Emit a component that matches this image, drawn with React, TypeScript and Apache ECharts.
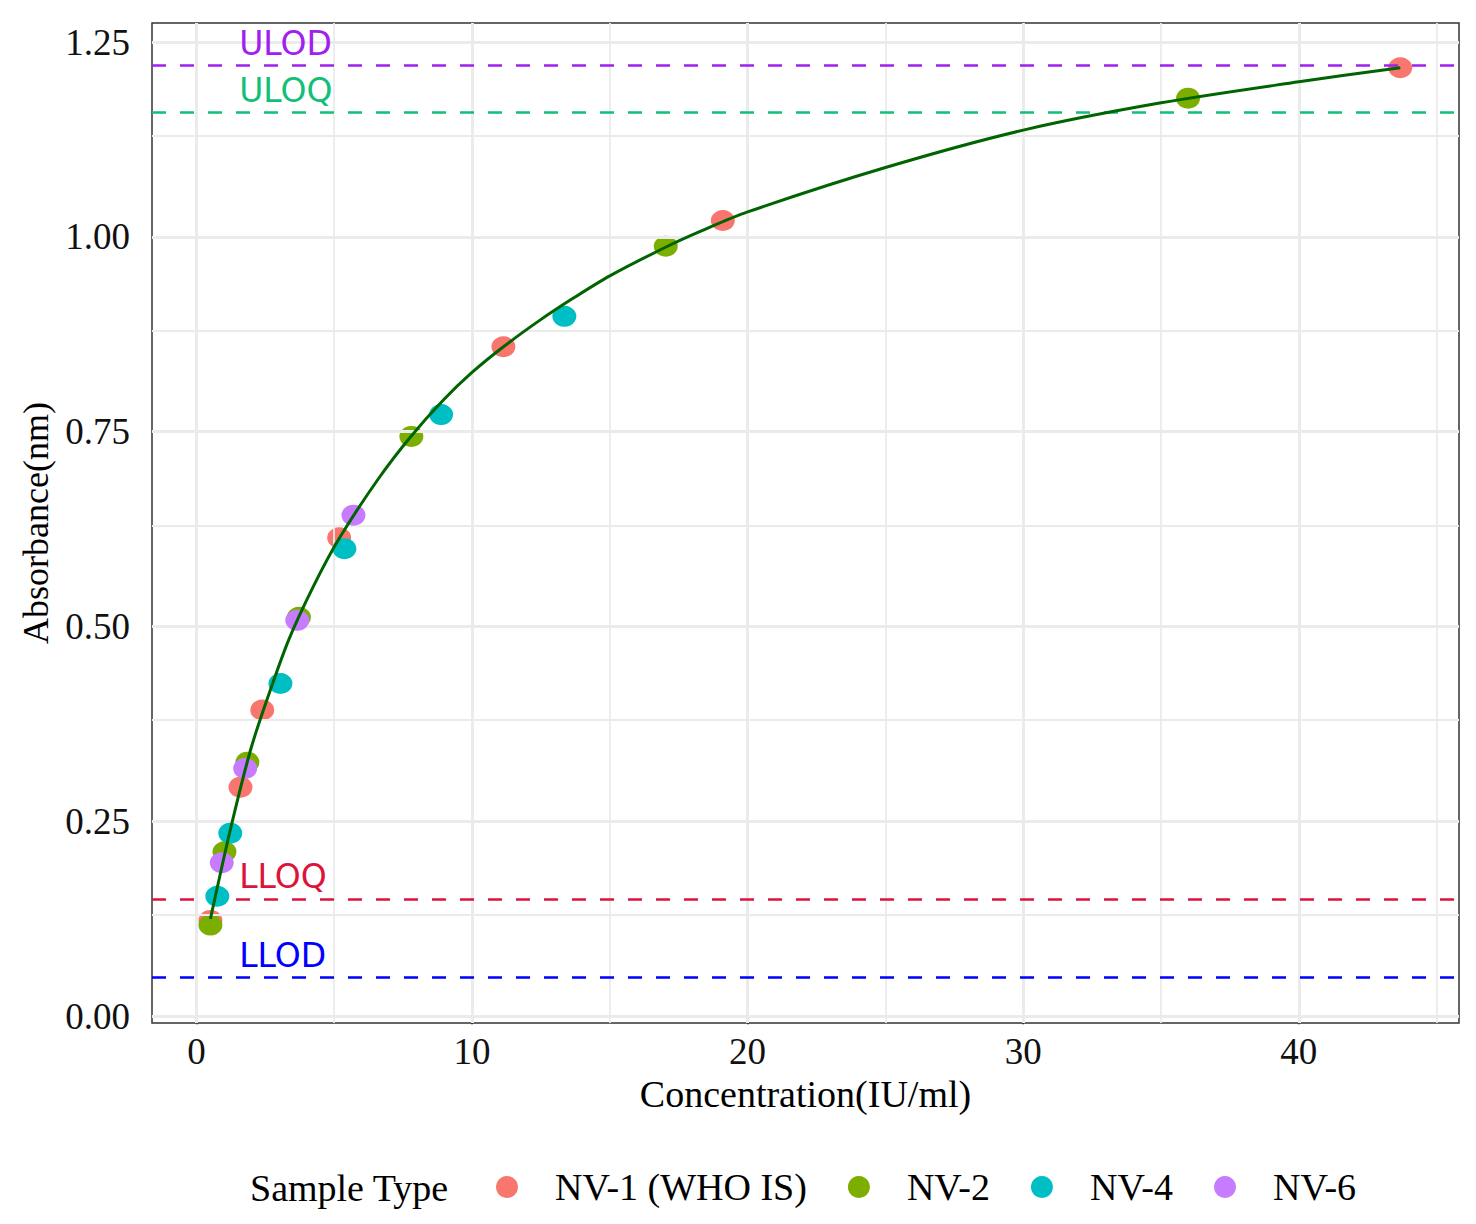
import { useEffect, useRef } from "react";
import * as echarts from "echarts";

// axis ranges of the panel (ggplot-style 5% expansion)
const X_MIN = -1.61;
const X_MAX = 45.81;
const Y_MIN = -0.0086;
const Y_MAX = 1.2744;

const X_TICKS = [0, 10, 20, 30, 40];
const X_MINOR = [5, 15, 25, 35, 45];
const Y_TICKS = [0, 0.25, 0.5, 0.75, 1.0, 1.25];
const Y_MINOR = [0.125, 0.375, 0.625, 0.875, 1.125];

// samples: [concentration, absorbance]
const NV1: number[][] = [
    [43.68, 1.217],
    [19.1, 1.021],
    [11.14, 0.859],
    [5.18, 0.614],
    [2.39, 0.393],
    [1.6, 0.294],
    [0.51, 0.123],
];
const NV2: number[][] = [
    [35.98, 1.178],
    [17.03, 0.988],
    [7.8, 0.744],
    [3.72, 0.512],
    [1.85, 0.326],
    [1.02, 0.211],
    [0.51, 0.117],
];
const NV4: number[][] = [
    [13.35, 0.898],
    [8.88, 0.772],
    [5.37, 0.6],
    [3.05, 0.427],
    [1.23, 0.235],
    [0.76, 0.154],
];
const NV6: number[][] = [
    [5.7, 0.643],
    [3.66, 0.508],
    [1.77, 0.318],
    [0.92, 0.197],
];

// fitted standard curve
const CURVE_X = [0.51, 1.23, 1.96, 2.56, 3.35, 4.25, 5.18, 6.61, 7.76, 8.97, 10, 11.14, 12.48, 13.68, 15, 17.04, 18.28, 20, 25, 30, 35, 40, 43.68];
const CURVE_Y = [0.125, 0.239, 0.341, 0.406, 0.483, 0.552, 0.613, 0.69, 0.743, 0.791, 0.826, 0.859, 0.8935, 0.9215, 0.95, 0.987, 1.007, 1.032, 1.089, 1.137, 1.172, 1.199, 1.217];

// limit lines
const LIMIT_NAMES = ["ULOD", "ULOQ", "LLOQ", "LLOD"];
const LIMIT_VALUES = [1.2173, 1.1557, 0.1489, 0.0484];
const LIMIT_COLORS = ["#A020F0", "#12BF78", "#DC143C", "#0000FF"];
const LIMIT_LABEL_X = 1.55;
const LIMIT_LABEL_Y = [1.248, 1.188, 0.179, 0.078];

const SERIES_NAMES = ["NV-1 (WHO IS)", "NV-2", "NV-4", "NV-6"];
const SERIES_DATA = [NV1, NV2, NV4, NV6];
const COLORS = ["#F8766D", "#7CAE00", "#00BFC4", "#C77CFF"];

const SERIF = "'Liberation Serif', 'Times New Roman', serif";
const SANS = "'DejaVu Sans', sans-serif";

export default function App() {
    const chartRef = useRef<HTMLDivElement | null>(null);

    useEffect(() => {
        document.body.style.margin = "0";
        if (!chartRef.current) return;
        const chart = echarts.init(chartRef.current, undefined, { renderer: "svg" });

        const gridLines = [
            ...X_TICKS.map((v) => ({ xAxis: v, lineStyle: { width: 3 } })),
            ...X_MINOR.map((v) => ({ xAxis: v, lineStyle: { width: 1.8 } })),
            ...Y_TICKS.map((v) => ({ yAxis: v, lineStyle: { width: 3 } })),
            ...Y_MINOR.map((v) => ({ yAxis: v, lineStyle: { width: 1.8 } })),
        ];

        chart.setOption({
            animation: false,
            backgroundColor: "#ffffff",
            grid: {
                left: 152,
                right: 17,
                top: 23,
                bottom: 201,
                show: true,
                borderColor: "#333333",
                borderWidth: 1.5,
                backgroundColor: "transparent",
            },
            xAxis: {
                type: "value",
                min: X_MIN,
                max: X_MAX,
                axisLine: { show: false },
                axisTick: {
                    show: true,
                    customValues: X_TICKS,
                    length: 8,
                    lineStyle: { color: "#333333", width: 2 },
                },
                axisLabel: {
                    customValues: X_TICKS,
                    fontSize: 37,
                    fontFamily: SERIF,
                    color: "#111111",
                    margin: 10,
                },
                splitLine: { show: false },
                name: "Concentration(IU/ml)",
                nameLocation: "middle",
                nameGap: 43,
                nameTextStyle: { fontSize: 38, fontFamily: SERIF, color: "#000000" },
            },
            yAxis: {
                type: "value",
                min: Y_MIN,
                max: Y_MAX,
                axisLine: { show: false },
                axisTick: {
                    show: true,
                    customValues: Y_TICKS,
                    length: 8,
                    lineStyle: { color: "#333333", width: 2 },
                },
                axisLabel: {
                    customValues: Y_TICKS,
                    fontSize: 37,
                    fontFamily: SERIF,
                    color: "#111111",
                    margin: 22,
                    formatter: (v: number) => v.toFixed(2),
                },
                splitLine: { show: false },
                name: "Absorbance(nm)",
                nameLocation: "middle",
                nameGap: 97,
                nameRotate: 90,
                nameTextStyle: { fontSize: 36, fontFamily: SERIF, color: "#000000" },
            },
            legend: {
                data: SERIES_NAMES,
                left: 491,
                top: 1163,
                icon: "circle",
                itemWidth: 22,
                itemHeight: 22,
                itemGap: 41,
                textStyle: {
                    fontSize: 38,
                    fontFamily: SERIF,
                    color: "#000000",
                    padding: [0, 0, 0, 32],
                },
            },
            graphic: [
                {
                    type: "text",
                    x: 250,
                    y: 1188,
                    style: {
                        text: "Sample Type",
                        fontSize: 38,
                        fontFamily: SERIF,
                        fill: "#000000",
                        verticalAlign: "middle",
                    },
                },
            ],
            series: [
                // panel grid
                {
                    name: "grid",
                    type: "line",
                    data: [],
                    z: 0,
                    silent: true,
                    markLine: {
                        silent: true,
                        symbol: ["none", "none"],
                        label: { show: false },
                        lineStyle: { color: "#EBEBEB", type: "solid" },
                        data: gridLines,
                    },
                },
                // limit lines
                {
                    name: "limits",
                    type: "line",
                    data: [],
                    z: 1,
                    silent: true,
                    markLine: {
                        silent: true,
                        symbol: ["none", "none"],
                        label: { show: false },
                        data: LIMIT_VALUES.map((v, i) => ({
                            yAxis: v,
                            lineStyle: { color: LIMIT_COLORS[i], width: 2.5, type: [14, 14] },
                        })),
                    },
                },
                // limit labels
                {
                    name: "limitLabels",
                    type: "scatter",
                    symbolSize: 0.1,
                    itemStyle: { color: "rgba(0,0,0,0)" },
                    z: 8,
                    silent: true,
                    data: LIMIT_NAMES.map((n, i) => ({
                        value: [LIMIT_LABEL_X, LIMIT_LABEL_Y[i]],
                        label: {
                            show: true,
                            position: "right",
                            distance: 0,
                            formatter: n,
                            color: LIMIT_COLORS[i],
                            textBorderWidth: 0,
                            opacity: 1,
                            fontSize: 33,
                            fontFamily: SANS,
                        },
                    })),
                },
                // samples
                ...SERIES_NAMES.map((name, i) => ({
                    name,
                    type: "scatter" as const,
                    symbol: "circle",
                    symbolSize: [24, 21],
                    z: 3 + i,
                    itemStyle: { color: COLORS[i], opacity: 1 },
                    data: SERIES_DATA[i],
                })),
                // standard curve
                {
                    name: "curve",
                    type: "line",
                    z: 10,
                    smooth: 0.3,
                    showSymbol: false,
                    symbol: "none",
                    silent: true,
                    lineStyle: { color: "#006400", width: 3 },
                    data: CURVE_X.map((x, i) => [x, CURVE_Y[i]]),
                },
            ],
        });

        return () => {
            chart.dispose();
        };
    }, []);

    return <div ref={chartRef} style={{ width: 1476, height: 1224 }} />;
}
